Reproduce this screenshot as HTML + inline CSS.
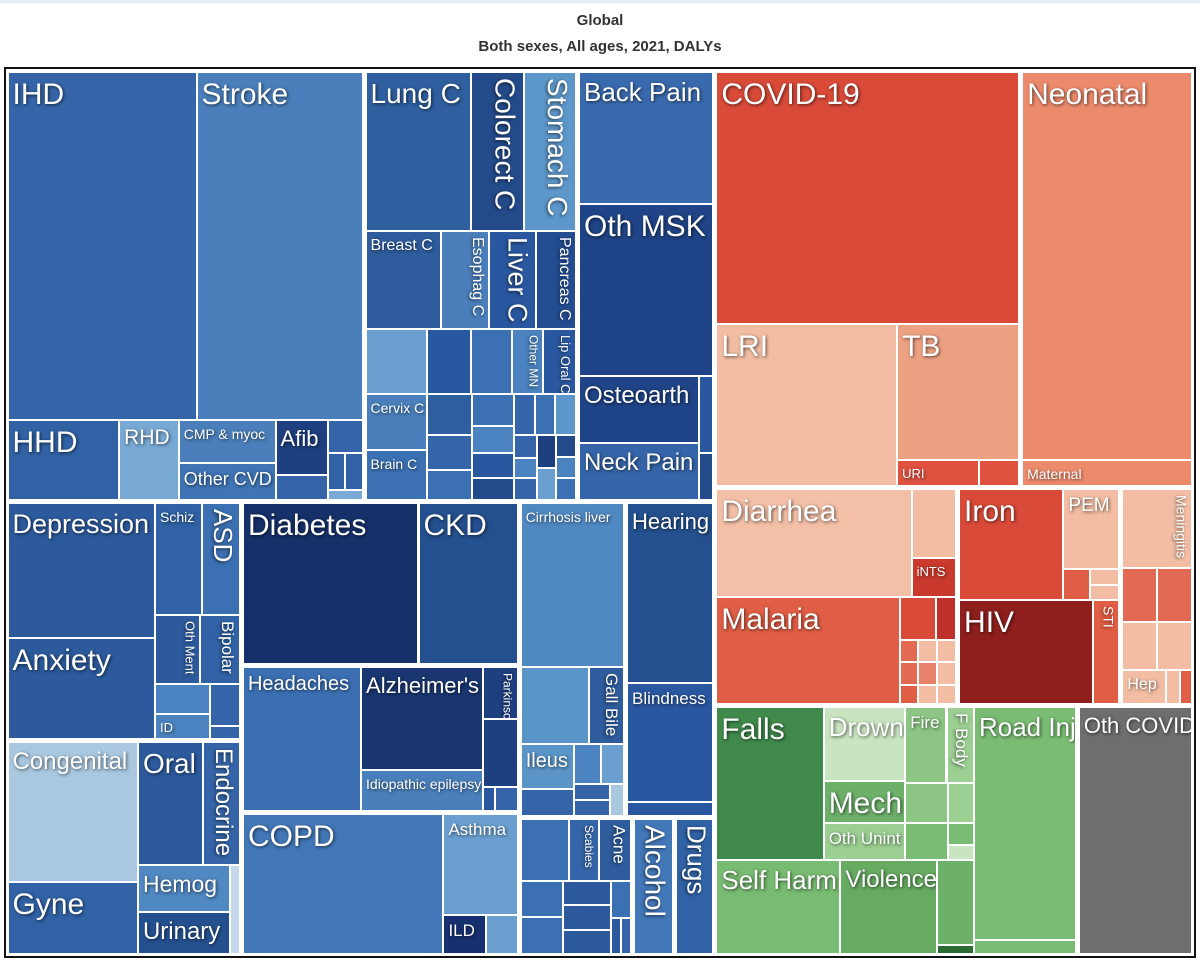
<!DOCTYPE html>
<html><head><meta charset="utf-8"><style>
html,body{margin:0;padding:0;background:#fff;}
body{width:1200px;height:966px;position:relative;overflow:hidden;font-family:"Liberation Sans",Arial,sans-serif;}
#topline{position:absolute;left:0;top:0;width:1200px;height:3px;background:#e6ecef;}
.title{position:absolute;left:0;width:1200px;text-align:center;font-weight:bold;font-size:15px;color:#333;}
#frame{position:absolute;left:4px;top:67px;width:1188px;height:887px;border:2px solid #111;background:#fff;}
.tile{position:absolute;box-sizing:border-box;overflow:hidden;}
.lbl{position:absolute;left:4px;top:6px;color:#fff;white-space:nowrap;text-shadow:1px 1px 3px rgba(0,0,0,0.65);line-height:1.05;}
.vert{writing-mode:vertical-rl;left:auto;right:3px;top:5px;}
</style></head><body>
<div id="topline"></div>
<div class="title" style="top:12px">Global</div>
<div class="title" style="top:38px">Both sexes, All ages, 2021, DALYs</div>
<div id="frame"></div>
<div id="tm"></div>
<script>
// Leaf categories and their values (area-proportional DALY estimates)
const names = [
 'IHD','Stroke','HHD','RHD','CMP & myoc','Other CVD','Afib','_c1','_c2','_c3','_c4','_c5',
 'Lung C','Colorect C','Stomach C','Breast C','Esophag C','Liver C','Pancreas C',
 '_n1','_n2','_n3','Other MN','Lip Oral C','Cervix C','Brain C','_n4','_n5','_n6','_n7','_n8','_n9','_n10',
 '_n11','_n12','_n13','_n14','_n15','_n16','_n17','_n18','_n19','_n20','_n21',
 'Back Pain','Oth MSK','Osteoarth','Neck Pain','_m1','_m2',
 'Depression','Anxiety','Schiz','ASD','Oth Ment','Bipolar','_p1','ID','_p2','_p3',
 'Congenital','Gyne','Oral','Endocrine','Hemog','Urinary','_o1',
 'Diabetes','CKD','Headaches',"Alzheimer's",'Idiopathic epilepsy',"Parkinson's",'_q1','_q2','_q3',
 'COPD','Asthma','ILD','_r1',
 'Cirrhosis liver','_d1','Gall Bile','Ileus','_d2','_d3','_d4','_d5','_d6','_d7',
 'Hearing','Blindness','_e1',
 '_k1','Scabies','Acne','_k2','_k3','_k4','_k5','_k6','_k7','_k8','_k9','Alcohol','Drugs',
 'COVID-19','LRI','TB','URI','_u1','Neonatal','Maternal',
 'Diarrhea','_a1','iNTS','Malaria','_a2','_a3','_a4','_a5','_a6','_a7','_a8','_a9','_a10','_a11','_a12',
 'Iron','PEM','_b1','_b2','_b3','HIV','STI',
 'Meningitis','_b4','_b5','_b6','_b7','Hep','_b8','_b9',
 'Falls','Drown','Mech','Oth Unint','Fire','F Body','_g1','_g2','_g3','_g4','_g5',
 'Self Harm','Violence','_g6','_g7','Road Inj','_g8','Oth COVID'
];
const values = [
 665,584,90,48,42,36,29,13,11.6,6.3,6.7,3.5,
 171,85,85,74.5,48,46,40,
 40.3,29.3,26.7,20.8,21.5,35.3,31,18.9,15.8,13.5,14.2,11.6,10.8,9.5,
 8.6,8.6,9,5.1,4.6,5,6.4,6.4,4.3,4.3,4.3,
 182,237,82,69.5,11.5,7,
 203,152,54,43,32,28,16.8,14,12.6,3.9,
 187,96,82.5,46,43.7,40,9,
 288.5,163,175,129,51.7,18.5,24.5,2.9,5.5,
 289,77,17.2,12.8,
 175,54.6,28,24.8,14.9,10.8,9.6,5.9,5.9,4.5,
 161,107,12.5,
 31.5,19,21,16,16.3,12.3,12.3,12.3,8,3.7,4,58,55,
 772,297,168.5,21.6,10.4,675,45,
 215,31,18,200,15.9,8.6,4.2,4.2,4.2,4.4,4.4,4.4,3.8,3.8,3.8,
 119,45.6,8.6,4.8,4.8,143,28,
 57.7,19.8,20.3,17.3,17.8,15.8,5.2,4.5,
 166,60.6,34.9,30.7,31.5,21,17.6,10.4,15.9,5.9,4,
 119,93,31.5,3.7,240,15.3,290
];
// Hierarchy: [direction, ...children]; '*' marks a cause group (wider gap)
const CVD = ['*v',['h','IHD','Stroke'],['h','HHD','RHD',['v','CMP & myoc','Other CVD'],['v','Afib','_c1'],['v','_c2',['h','_c3','_c4'],'_c5']]];
const NEO = ['*v',['h','Lung C','Colorect C','Stomach C'],['h','Breast C','Esophag C','Liver C','Pancreas C'],
 ['v',['h','_n1','_n2','_n3','Other MN','Lip Oral C'],
  ['h',['v','Cervix C','Brain C'],['v','_n4','_n5','_n6'],['v','_n7','_n8','_n9','_n10'],
   ['v',['h','_n11','_n12','_n13'],['h',['v','_n14','_n15','_n16'],['v','_n17','_n18'],['v','_n19','_n20','_n21']]]]]];
const MSK = ['*v','Back Pain','Oth MSK',['h',['v','Osteoarth','Neck Pain'],['v','_m1','_m2']]];
const MENTAL = ['*h',['v','Depression','Anxiety'],['v',['h','Schiz','ASD'],['h','Oth Ment','Bipolar'],['h',['v','_p1','ID'],['v','_p2','_p3']]]];
const OTHNCD = ['*h',['v','Congenital','Gyne'],['v',['h','Oral','Endocrine'],['h',['v','Hemog','Urinary'],'_o1']]];
const NEURO = ['*h','Headaches',['v',"Alzheimer's",'Idiopathic epilepsy'],['v',"Parkinson's",'_q1',['h','_q2','_q3']]];
const RESP = ['*h','COPD',['v','Asthma',['h','ILD','_r1']]];
const DIG = ['*v','Cirrhosis liver',['h','_d1','Gall Bile'],['h',['v','Ileus','_d2'],['v',['h','_d3','_d4'],['h',['v','_d5','_d6'],'_d7']]]];
const SENSE = ['*v','Hearing','Blindness','_e1'];
const SKIN = ['*v',['h','_k1','Scabies','Acne'],['h',['v','_k2','_k3'],['v','_k4','_k5','_k6'],['v','_k7',['h','_k8','_k9']]]];
const BLUE = ['v',['h',CVD,NEO,MSK],['h',['v',MENTAL,OTHNCD],['v',['*h','Diabetes','CKD'],NEURO,RESP],['v',['h',DIG,SENSE],['h',SKIN,['*h','Alcohol'],['*h','Drugs']]]]];
const RED = ['v',['h',['*v','COVID-19',['h','LRI',['v','TB',['h','URI','_u1']]]],['*v','Neonatal','Maternal']],
 ['h',['*v',['h','Diarrhea',['v','_a1','iNTS']],['h','Malaria',['v',['h','_a2','_a3'],['v',['h','_a4','_a5','_a6'],['h','_a7','_a8','_a9'],['h','_a10','_a11','_a12']]]]],
  ['*v',['h','Iron',['v','PEM',['h','_b1',['v','_b2','_b3']]]],['h','HIV','STI']],
  ['*v','Meningitis',['h','_b4','_b5'],['h','_b6','_b7'],['h','Hep','_b8','_b9']]]];
const BOT = ['h',['*h',['v',['h','Falls',['h',['v','Drown','Mech','Oth Unint'],['v',['h','Fire','F Body'],['h','_g1','_g2'],['h','_g3',['v','_g4','_g5']]]]],['h','Self Harm','Violence',['v','_g6','_g7']]],['v','Road Inj','_g8']],['*h','Oth COVID']];
const ROOT = ['h',BLUE,['v',RED,BOT]];

const fills = {
 'IHD':'#3565a8','Stroke':'#4a7fbb','HHD':'#3062a5','RHD':'#78a8d4','CMP & myoc':'#4a7fbb','Other CVD':'#3f74b5','Afib':'#1e3f80',
 '_c1':'#3565a8','_c2':'#3565a8','_c3':'#3062a5','_c4':'#3062a5','_c5':'#7aaad6',
 'Lung C':'#2f5f9f','Colorect C':'#234b8a','Stomach C':'#5d96c9','Breast C':'#2e5c9c','Esophag C':'#4a7fbb','Liver C':'#2a58a0','Pancreas C':'#234d90',
 '_n1':'#6a9fd0','_n2':'#2a58a0','_n3':'#3b70b2','Other MN':'#4a83bf','Lip Oral C':'#2a58a0','Cervix C':'#4a7fbb','Brain C':'#3b70b2',
 '_n4':'#2f5f9f','_n5':'#3565a8','_n6':'#3b70b2','_n7':'#3b70b2','_n8':'#4a83bf','_n9':'#2a58a0','_n10':'#234b8a',
 '_n11':'#3565a8','_n12':'#3b70b2','_n13':'#5d96c9','_n14':'#3565a8','_n15':'#4a83bf','_n16':'#3565a8','_n17':'#1e3f80','_n18':'#6a9fd0','_n19':'#234b8a','_n20':'#4a83bf','_n21':'#3b70b2',
 'Back Pain':'#3a6aae','Oth MSK':'#1f4487','Osteoarth':'#1f4487','Neck Pain':'#3565a8','_m1':'#2a58a0','_m2':'#234b8a',
 'Depression':'#2c5a9c','Anxiety':'#2c5a9c','Schiz':'#3062a5','ASD':'#3b70b2','Oth Ment':'#2c5a9c','Bipolar':'#3062a5','_p1':'#4a83bf','ID':'#4a83bf','_p2':'#3565a8','_p3':'#3565a8',
 'Congenital':'#a9c8e0','Gyne':'#3062a5','Oral':'#2c5a9c','Endocrine':'#3565a8','Hemog':'#5088c2','Urinary':'#24508f','_o1':'#c5d9ec',
 'Diabetes':'#16306a','CKD':'#24508f','Headaches':'#3b6fb2',"Alzheimer's":'#1a3670','Idiopathic epilepsy':'#4a7fbb',"Parkinson's":'#1e3f80','_q1':'#1e3f80','_q2':'#2a58a0','_q3':'#3565a8',
 'COPD':'#4277b8','Asthma':'#6a9fd0','ILD':'#163070','_r1':'#6a9fd0',
 'Cirrhosis liver':'#5088c2','_d1':'#5b95c8','Gall Bile':'#2e5c9c','Ileus':'#5b95c8','_d2':'#3565a8','_d3':'#4a83bf','_d4':'#6a9fd0','_d5':'#3565a8','_d6':'#3565a8','_d7':'#a9c8e0',
 'Hearing':'#24508f','Blindness':'#2a58a0','_e1':'#2a58a0',
 '_k1':'#3b70b2','Scabies':'#3565a8','Acne':'#2e5c9c','_k2':'#3b70b2','_k3':'#3b70b2','_k4':'#2c5a9c','_k5':'#2c5a9c','_k6':'#2c5a9c','_k7':'#3b70b2','_k8':'#2c5a9c','_k9':'#3565a8',
 'Alcohol':'#4277b8','Drugs':'#3062a5',
 'COVID-19':'#d94a38','LRI':'#f2bda3','TB':'#eda183','URI':'#df5240','_u1':'#df5240','Neonatal':'#ec8a6c','Maternal':'#ec8a6c',
 'Diarrhea':'#f3bfa6','_a1':'#f2bda3','iNTS':'#c9392c','Malaria':'#e05e45','_a2':'#d94a38','_a3':'#c0302a',
 '_a4':'#e36a52','_a5':'#f2bda3','_a6':'#f2bda3','_a7':'#e36a52','_a8':'#e8826a','_a9':'#f2bda3','_a10':'#e05e45','_a11':'#f2bda3','_a12':'#f2bda3',
 'Iron':'#d94a38','PEM':'#f2bda3','_b1':'#e05e45','_b2':'#f2bda3','_b3':'#f2bda3','HIV':'#8e1f1d','STI':'#e05e45',
 'Meningitis':'#f2bda3','_b4':'#e36a52','_b5':'#e36a52','_b6':'#f2bda3','_b7':'#f2bda3','Hep':'#f2bda3','_b8':'#f2bda3','_b9':'#e05e45',
 'Falls':'#3f8a4a','Drown':'#c9e4c0','Mech':'#6db06a','Oth Unint':'#9ccf92','Fire':'#8cc584','F Body':'#9ccf92',
 '_g1':'#8cc584','_g2':'#9ccf92','_g3':'#7abc73','_g4':'#7abc73','_g5':'#c9e4c0',
 'Self Harm':'#78bb72','Violence':'#67aa62','_g6':'#6db06a','_g7':'#2a6a33','Road Inj':'#7abc73','_g8':'#7abc73','Oth COVID':'#6e6e6e'
};
// label style: [font size, vertical]
const lstyle = {
 'IHD':[30,0],'Stroke':[30,0],'Lung C':[28,0],'Colorect C':[28,1],'Stomach C':[28,1],'Breast C':[16,0],'Esophag C':[16,1],'Liver C':[27,1],'Pancreas C':[16,1],
 'Other MN':[12,1],'Lip Oral C':[13,1],'Cervix C':[14,0],'Brain C':[14,0],'Back Pain':[26,0],'Oth MSK':[30,0],'Osteoarth':[24,0],'Neck Pain':[24,0],
 'HHD':[30,0],'RHD':[21,0],'CMP & myoc':[14,0],'Other CVD':[18,0],'Afib':[22,0],'Depression':[27,0],'Anxiety':[30,0],'Schiz':[14,0],'ASD':[26,1],
 'Oth Ment':[13,1],'Bipolar':[17,1],'ID':[13,0],'Congenital':[24,0],'Gyne':[30,0],'Oral':[28,0],'Endocrine':[24,1],'Hemog':[23,0],'Urinary':[24,0],
 'Diabetes':[30,0],'CKD':[30,0],'Headaches':[20,0],"Alzheimer's":[22,0],'Idiopathic epilepsy':[14,0],"Parkinson's":[12,1],'COPD':[30,0],'Asthma':[17,0],'ILD':[17,0],
 'Cirrhosis liver':[14,0],'Gall Bile':[17,1],'Ileus':[20,0],'Hearing':[22,0],'Blindness':[17,0],'Scabies':[12,1],'Acne':[17,1],'Alcohol':[28,1],'Drugs':[26,1],
 'COVID-19':[30,0],'Neonatal':[30,0],'LRI':[30,0],'TB':[30,0],'URI':[13,0],'Maternal':[14,0],'Diarrhea':[30,0],'iNTS':[13,0],'Iron':[30,0],'PEM':[19,0],
 'Meningitis':[14,1],'Malaria':[30,0],'HIV':[30,0],'STI':[14,1],'Hep':[16,0],'Falls':[30,0],'Drown':[26,0],'Mech':[30,0],'Oth Unint':[17,0],'Fire':[17,0],
 'F Body':[17,1],'Road Inj':[26,0],'Self Harm':[26,0],'Violence':[24,0],'Oth COVID':[22,0]
};

function total(n){
  if(typeof n==='string') return values[names.indexOf(n)];
  let s=0; for(let i=1;i<n.length;i++) s+=total(n[i]); return s;
}
const tm=document.getElementById('tm');
function slug(s){return s.toLowerCase().replace(/[^a-z0-9]+/g,'-').replace(/^-|-$/g,'');}
function drawLeaf(name,x,y,w,h){
  const d=document.createElement('div');
  d.className='tile';
  d.style.left=(x+1)+'px'; d.style.top=(y+1)+'px';
  d.style.width=Math.max(0,w-2)+'px'; d.style.height=Math.max(0,h-2)+'px';
  d.style.background=fills[name]||'#3565a8';
  const nm = name.startsWith('_') ? 'tile-other-'+name.slice(1) : 'tile-'+slug(name);
  
  
  if(!name.startsWith('_')){
    const st=lstyle[name]||[13,0];
    const l=document.createElement('div');
    l.className='lbl'+(st[1]?' vert':'');
    l.style.fontSize=st[0]+'px';
    l.textContent=name;
    
    
    d.appendChild(l);
  }
  tm.appendChild(d);
}
function layout(n,x,y,w,h){
  if(typeof n==='string'){drawLeaf(n,x,y,w,h);return;}
  let dir=n[0];
  if(dir[0]==='*'){dir=dir.slice(1);x+=1.5;y+=1.5;w-=3;h-=3;}
  const T=total(n); let off=0;
  for(let i=1;i<n.length;i++){
    const f=total(n[i])/T;
    if(dir==='h'){layout(n[i],x+off,y,w*f,h);off+=w*f;}
    else{layout(n[i],x,y+off,w,h*f);off+=h*f;}
  }
}
layout(ROOT,6,70,1188,886);
</script>
</body></html>
